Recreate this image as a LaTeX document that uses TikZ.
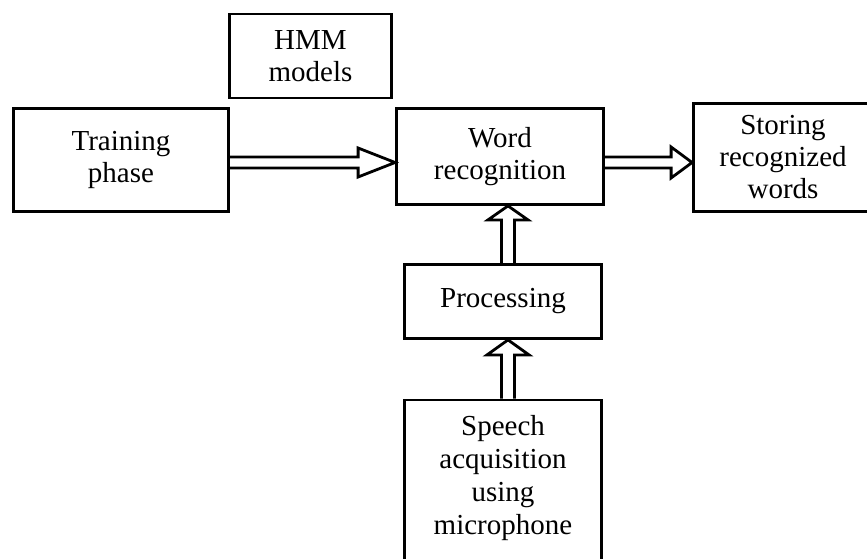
\documentclass[tikz,border=0pt]{standalone}
\usepackage{fontspec}
\setmainfont{Liberation Serif}
\usetikzlibrary{calc}
\newcommand\mydharrow[5]{\draw[conn] ($(#1)+(0,-#3)$) -- ($(#2)+(-#4,-#3)$) -- ($(#2)+(-#4,-#5)$) -- (#2) -- ($(#2)+(-#4,#5)$) -- ($(#2)+(-#4,#3)$) -- ($(#1)+(0,#3)$);}
\newcommand\mydvarrow[5]{\draw[conn] ($(#1)+(-#3,0)$) -- ($(#2)+(-#3,#4)$) -- ($(#2)+(-#5,#4)$) -- (#2) -- ($(#2)+(#5,#4)$) -- ($(#2)+(#3,#4)$) -- ($(#1)+(#3,0)$);}
\begin{document}
\begin{tikzpicture}[x=1pt,y=-1pt,
  box/.style={draw, line width=2.8pt, rectangle, inner sep=0pt, align=center,
    font=\fontsize{29}{32}\selectfont},
  txt/.style={inner sep=0pt, align=center, font=\fontsize{29}{33}\selectfont},
  conn/.style={line width=2.8pt, line join=miter}]
\useasboundingbox (0,0) rectangle (867,559);
\node[box, minimum width=162, minimum height=84] (hmm) at (310.5,56) {HMM\\models};
\node[box, minimum width=215, minimum height=103] (tr) at (121,160) {Training\\phase};
\node[box, minimum width=207, minimum height=96] (wr) at (500,156.5) {Word\\recognition};
\node[box, minimum width=179, minimum height=108] (st) at (783,157.5) {Storing\\recognized\\words};
\node[box, minimum width=197, minimum height=74] (pr) at (503,301.5) {Processing};
\node[box, minimum width=197, minimum height=180] (sp) at (503,490) {};
\node[txt] (spt) at (503,478) {Speech\\acquisition\\using\\microphone};
% connectors
\coordinate (ya) at (0,162.5);
\coordinate (xa) at (508,0);
\coordinate (a1s) at (tr.east |- ya);
\coordinate (a1e) at (wr.west |- ya);
\coordinate (a2s) at (wr.east |- ya);
\coordinate (a2e) at (st.west |- ya);
\coordinate (b1s) at (pr.north -| xa);
\coordinate (b1e) at (wr.south -| xa);
\coordinate (b2s) at (sp.north -| xa);
\coordinate (b2e) at (pr.south -| xa);
\mydharrow{a1s}{a1e}{5.5}{37}{14.5}
\mydharrow{a2s}{a2e}{5.5}{21}{15.5}
\mydvarrow{b1s}{b1e}{6.5}{14}{20}
\mydvarrow{b2s}{b2e}{6.5}{15}{21}
\end{tikzpicture}
\end{document}
